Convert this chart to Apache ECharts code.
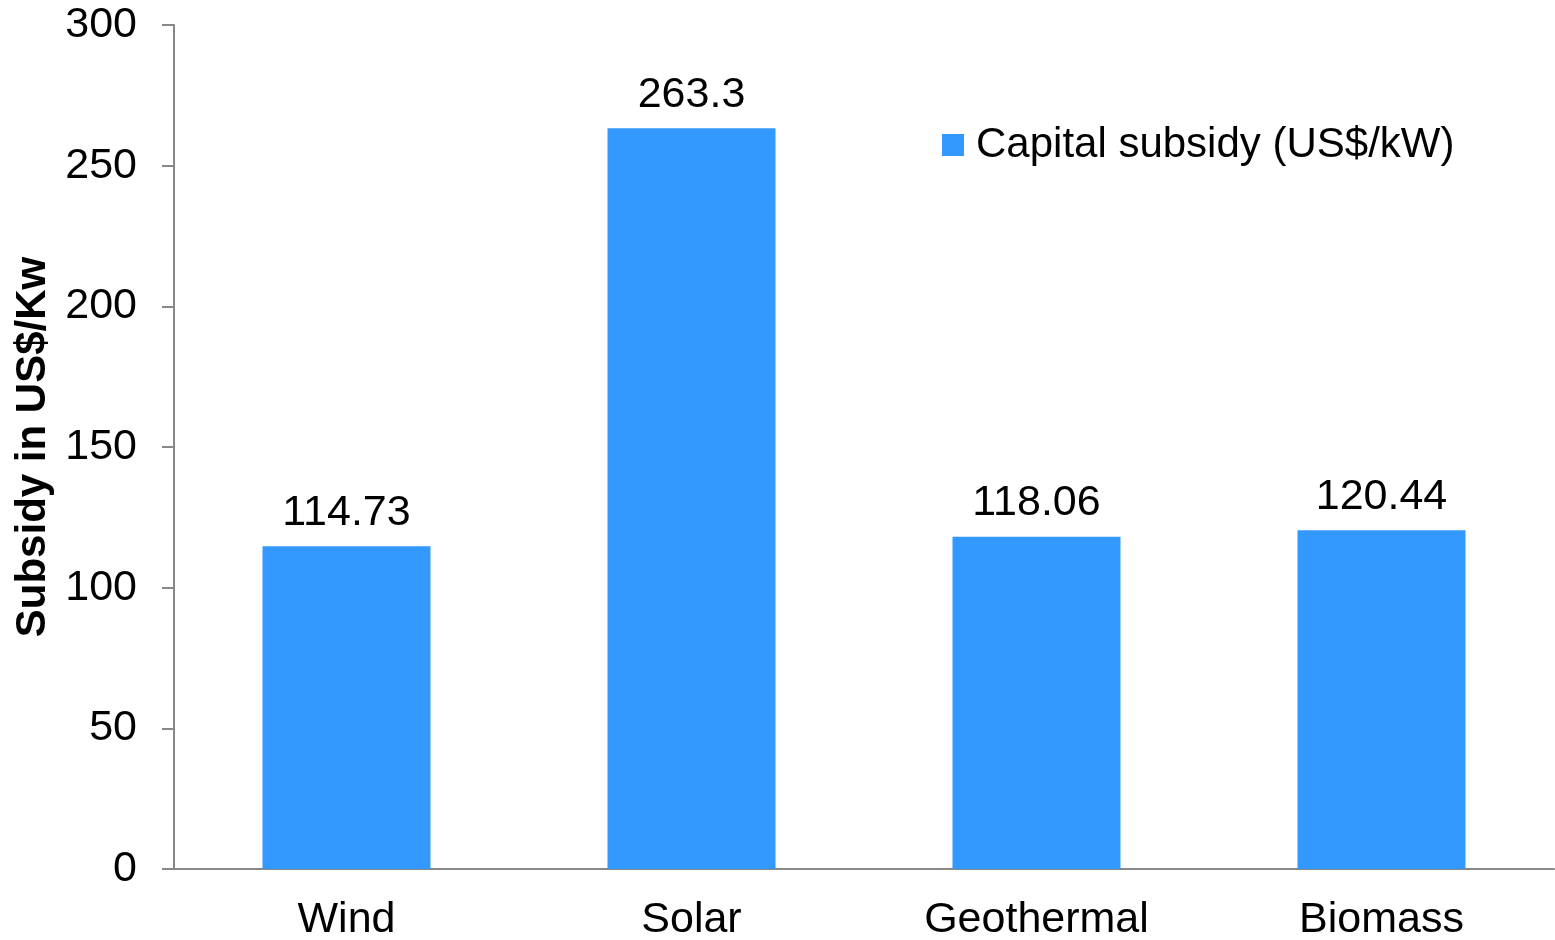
<!DOCTYPE html>
<html>
<head>
<meta charset="utf-8">
<script src="https://cdn.jsdelivr.net/npm/echarts@6/dist/echarts.min.js"></script>
<style>
  html, body { margin: 0; padding: 0; background: #fff; }
  #chart { width: 1555px; height: 940px; }
</style>
</head>
<body>
<div id="chart"></div>
<script>
// Capital subsidy per technology, US$/kW
const categories = ['Wind', 'Solar', 'Geothermal', 'Biomass'];
const subsidyValues = [114.73, 263.3, 118.06, 120.44];
const yTicks = [0, 50, 100, 150, 200, 250, 300];
const seriesName = 'Capital subsidy (US$/kW)';
const yAxisTitle = 'Subsidy in US$/Kw';

const FONT = '"Liberation Sans", Arial, sans-serif';
const chart = echarts.init(document.getElementById('chart'), null, { renderer: 'canvas' });

chart.setOption({
  animation: false,
  backgroundColor: '#ffffff',
  grid: { left: 174, top: 25, right: 1, bottom: 71, containLabel: false, outerBoundsMode: 'none' },
  legend: {
    data: [seriesName],
    left: 937,
    top: 119,
    itemWidth: 22,
    itemHeight: 22,
    icon: 'rect',
    textStyle: { fontFamily: FONT, fontSize: 42, color: '#000', padding: [0, 0, 0, 7] }
  },
  xAxis: {
    type: 'category',
    data: categories,
    axisLine: { show: true, lineStyle: { color: '#888888', width: 2 } },
    axisTick: { show: false },
    axisLabel: { margin: 30, fontFamily: FONT, fontSize: 43, color: '#000' },
    splitLine: { show: false }
  },
  yAxis: {
    type: 'value',
    min: yTicks[0],
    max: yTicks[yTicks.length - 1],
    interval: yTicks[1] - yTicks[0],
    name: yAxisTitle,
    nameLocation: 'middle',
    nameRotate: 90,
    nameGap: 118,
    nameTextStyle: { fontFamily: FONT, fontSize: 42, fontWeight: 'bold', color: '#000' },
    axisLine: { show: true, lineStyle: { color: '#888888', width: 2 } },
    axisTick: { show: true, inside: false, length: 12, lineStyle: { color: '#888888', width: 2 } },
    axisLabel: { margin: 37, fontFamily: FONT, fontSize: 43, color: '#000' },
    splitLine: { show: false }
  },
  series: [{
    name: seriesName,
    type: 'bar',
    data: subsidyValues,
    barWidth: '48.7%',
    itemStyle: { color: '#3399FF' },
    label: {
      show: true,
      position: 'top',
      distance: 12,
      fontFamily: FONT,
      fontSize: 43,
      color: '#000',
      formatter: p => String(p.value)
    }
  }]
});
</script>
</body>
</html>
